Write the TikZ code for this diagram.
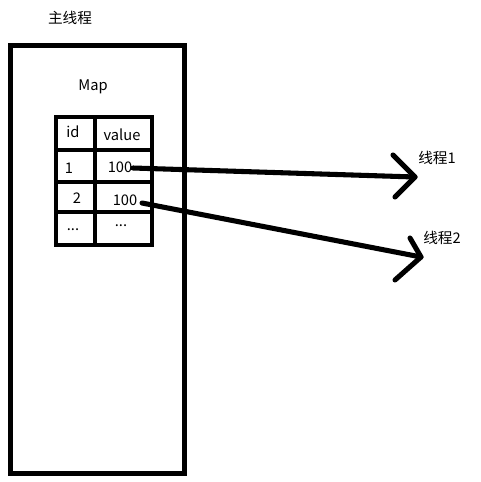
\documentclass[tikz,border=0pt]{standalone}
\usepackage{fontspec}
\setmainfont{Noto Sans CJK SC}
\usetikzlibrary{calc}
\begin{document}
\begin{tikzpicture}[x=0.75pt,y=-0.75pt,
  lbl/.style={inner sep=0pt,font=\fontsize{11pt}{13pt}\selectfont},
  thick5/.style={line width=3.8pt},
  thick4/.style={line width=3.2pt},
  conn/.style={line width=3.8pt,line cap=round,line join=round}]
\useasboundingbox[fill=white] (0,0) rectangle (481,482);
% main thread box
\draw[thick5] (10.5,45.5) rectangle (184.5,473.5);
\node[lbl] (main) at (70,18) {主线程};
\node[lbl] (map) at (93,87) {Map};
% table
\draw[thick4] (56,117) rectangle (152,245);
\draw[thick4] (95,117) -- (95,245);
\draw[thick4] (56,150) -- (150,150);
\draw[thick4] (56,182) -- (150,182);
\draw[thick4] (56,212) -- (150,212);
\node[lbl] (hid) at (73,132) {id};
\node[lbl] (hval) at (122,135) {value};
\node[lbl] (id1) at (69,168) {1};
\node[lbl] (v1) at (120,167) {100};
\node[lbl] (id2) at (77,198) {2};
\node[lbl] (v2) at (125,200) {100};
\node[lbl] (id3) at (73,230) {...};
\node[lbl] (v3) at (121,226) {...};
% connectors
\coordinate (s1) at (133,168);
\coordinate (t1) at (415,177);
\coordinate (s2) at (142,203);
\coordinate (t2) at (421,257);
\draw[conn] (s1) -- (t1);
\draw[conn] ($(t1)+(-22,-22)$) -- (t1) -- ($(t1)+(-20,20)$);
\draw[conn] (s2) -- (t2);
\draw[conn] ($(t2)+(-11,-19)$) -- (t2) -- ($(t2)+(-26,23)$);
\node[lbl] (th1) at (437,158) {线程1};
\node[lbl] (th2) at (442,238) {线程2};
\end{tikzpicture}
\end{document}
